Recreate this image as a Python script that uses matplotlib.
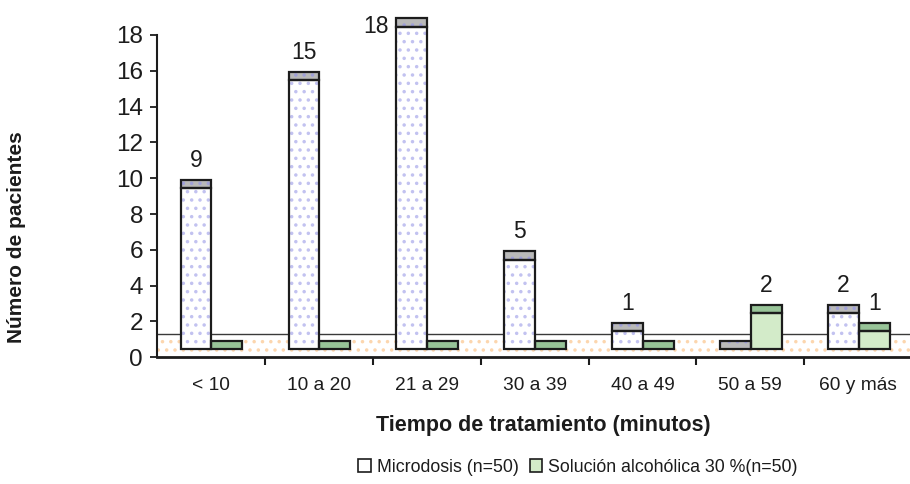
import matplotlib
matplotlib.use("Agg")
import matplotlib.pyplot as plt
from matplotlib.patches import Rectangle

plt.rcParams['font.family'] = ['Liberation Sans', 'DejaVu Sans']
plt.rcParams['hatch.linewidth'] = 1.3

categories = ["< 10", "10 a 20", "21 a 29", "30 a 39", "40 a 49", "50 a 59", "60 y más"]
microdosis = [9, 15, 18, 5, 1, 0, 2]
solucion = [0, 0, 0, 0, 0, 2, 1]
series_names = ["Microdosis (n=50)", "Solución alcohólica 30 %(n=50)"]
yticks = list(range(0, 20, 2))

BASE = 0.46      # bars sit slightly above the floor line (depth offset)
CAP = 0.46       # height of the visible top face
FLOOR_TOP = 1.28
WIDTH = 0.285
INK = "#1c1c1c"

fig = plt.figure(figsize=(9.1, 4.84), dpi=100)
ax = fig.add_axes([0.1725, 0.2618, 1.0 - 0.1725 + 0.003, 0.666])
ax.set_xlim(-0.5, 6.505)
ax.set_ylim(0, 18)


def box(x, y, w, h, face, hatch_col=None, z=3):
    # filled patch with optional coloured dot pattern, then a black outline
    ax.add_patch(Rectangle((x, y), w, h, facecolor=face, edgecolor=hatch_col or face,
                           hatch=".." if hatch_col else None, linewidth=0,
                           zorder=z, clip_on=False))
    ax.add_patch(Rectangle((x, y), w, h, fill=False, edgecolor=INK, linewidth=1.6,
                           zorder=z + 0.1, clip_on=False))


# floor of the 3D plot area
ax.add_patch(Rectangle((-0.5, 0), 7.2, FLOOR_TOP, facecolor="white", edgecolor="#fcd6ae",
                       hatch="..", linewidth=0, zorder=1, clip_on=False))
ax.plot([-0.5, 7.0], [FLOOR_TOP, FLOOR_TOP], color="#3a3a3a", lw=1.0, zorder=1.5,
        clip_on=False)

for i, (m, s) in enumerate(zip(microdosis, solucion)):
    xm = i - 0.28
    xs = xm + WIDTH
    if m > 0:
        box(xm, BASE, WIDTH, m, "white", "#c2c2f0")
    box(xm, BASE + m, WIDTH, CAP, "#b9b9b9", "#a0a0d8")
    if s > 0:
        box(xs, BASE, WIDTH, s, "#d3ebc9")
    box(xs, BASE + s, WIDTH, CAP, "#98c498")

    # value labels
    if m > 0:
        if m + 2.0 > 18:
            ax.text(xm + WIDTH / 2 - 0.33, m + 0.45, str(m), ha="center", va="center",
                    fontsize=16.5, color=INK, zorder=5, clip_on=False)
        else:
            ax.text(xm + WIDTH / 2, m + 2.0, str(m), ha="center", va="center",
                    fontsize=16.5, color=INK, zorder=5)
    if s > 0:
        ax.text(xs + WIDTH / 2, s + 2.0, str(s), ha="center", va="center",
                fontsize=16.5, color=INK, zorder=5)

# axes styling
for side in ["top", "right"]:
    ax.spines[side].set_visible(False)
ax.spines["left"].set_linewidth(1.5)
ax.spines["bottom"].set_linewidth(2.0)
ax.spines["left"].set_color(INK)
ax.spines["bottom"].set_color(INK)
ax.spines["bottom"].set_zorder(6)

ax.set_yticks(yticks)
ax.tick_params(axis="y", direction="out", length=5, width=1.3, labelsize=17.5, pad=5,
               colors=INK)

ax.set_xticks([i + 0.5 for i in range(len(categories))])
ax.set_xticklabels([])
ax.set_xticks(range(len(categories)), minor=True)
ax.set_xticklabels(categories, minor=True, fontsize=13.8, color=INK)
ax.tick_params(axis="x", which="major", direction="out", length=6, width=1.5, colors=INK)
ax.tick_params(axis="x", which="minor", length=0, pad=14)

fig.text(543 / 910, 1 - 425 / 484, "Tiempo de tratamiento (minutos)", ha="center",
         va="center", fontsize=15.5, fontweight="bold", color=INK)
fig.text(17 / 910, 1 - 237 / 484, "Número de pacientes", rotation=90, ha="center",
         va="center", fontsize=15, fontweight="bold", color=INK)

handles = [Rectangle((0, 0), 1, 1, facecolor="white", edgecolor=INK, linewidth=1.2),
           Rectangle((0, 0), 1, 1, facecolor="#d3ebc9", edgecolor=INK, linewidth=1.2)]
fig.legend(handles, series_names, loc="center", bbox_to_anchor=(578 / 910, 1 - 467 / 484),
           ncol=2, frameon=False, fontsize=12.8, handlelength=0.7, handleheight=0.7,
           handletextpad=0.35, columnspacing=0.6, labelcolor=INK)

fig.savefig("out.png", dpi=100)
